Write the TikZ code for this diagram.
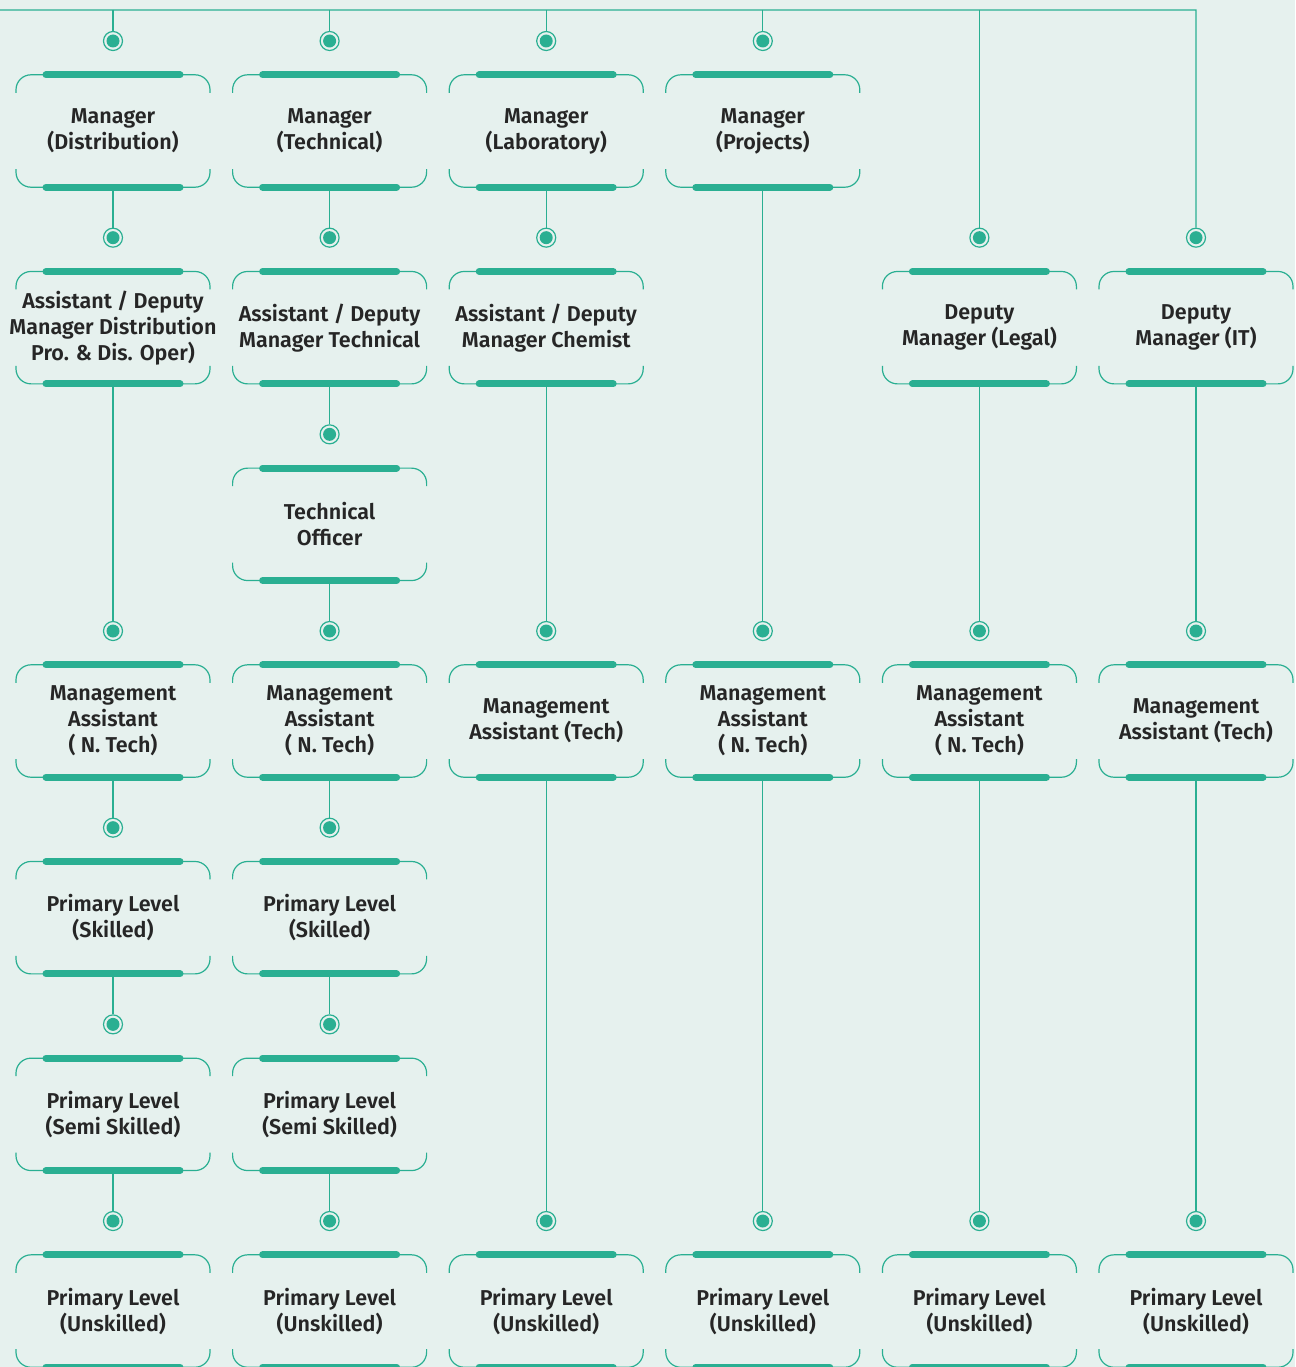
\documentclass[tikz,border=0pt]{standalone}
\usepackage{fontspec}
\setmainfont{Fira Sans}[UprightFont={* SemiBold}]
\definecolor{orgteal}{HTML}{2AAF92}
\definecolor{orgbg}{HTML}{E6F1EE}
\definecolor{orgtext}{HTML}{262626}
\tikzset{
  rolebox/.style={minimum width=194pt, minimum height=112pt, inner sep=0pt, align=center,
    text=orgtext, font=\fontsize{21.5}{26}\selectfont},
  knob/.style={circle, draw=orgteal, line width=1.2pt, minimum size=19pt, inner sep=0pt,
    path picture={\fill[orgteal] (path picture bounding box.center) circle (6.5pt);}},
  link/.style={orgteal, line width=1.2pt},
  bar/.style={orgteal, line width=7pt, line cap=round},
  curl/.style={orgteal, line width=1.2pt, rounded corners=15pt},
}
\begin{document}
\begin{tikzpicture}[x=1pt, y=-1pt]
\fill[orgbg] (0,0) rectangle (1295,1367);
\useasboundingbox (0,0) rectangle (1295,1367);
\foreach \c/\r/\t in {
  1/0/{Manager\\(Distribution)},
  1/1/{Assistant / Deputy\\Manager Distribution\\Pro. \& Dis. Oper)},
  1/3/{Management\\Assistant\\( N. Tech)},
  1/4/{Primary Level\\(Skilled)},
  1/5/{Primary Level\\(Semi Skilled)},
  1/6/{Primary Level\\(Unskilled)},
  2/0/{Manager\\(Technical)},
  2/1/{Assistant / Deputy\\Manager Technical},
  2/2/{Technical\\Officer},
  2/3/{Management\\Assistant\\( N. Tech)},
  2/4/{Primary Level\\(Skilled)},
  2/5/{Primary Level\\(Semi Skilled)},
  2/6/{Primary Level\\(Unskilled)},
  3/0/{Manager\\(Laboratory)},
  3/1/{Assistant / Deputy\\Manager Chemist},
  3/3/{Management\\Assistant (Tech)},
  3/6/{Primary Level\\(Unskilled)},
  4/0/{Manager\\(Projects)},
  4/3/{Management\\Assistant\\( N. Tech)},
  4/6/{Primary Level\\(Unskilled)},
  5/1/{Deputy\\Manager (Legal)},
  5/3/{Management\\Assistant\\( N. Tech)},
  5/6/{Primary Level\\(Unskilled)},
  6/1/{Deputy\\Manager (IT)},
  6/3/{Management\\Assistant (Tech)},
  6/6/{Primary Level\\(Unskilled)}}
{
  \node[knob] (d\c\r) at ({113+216.6*(\c-1)}, {41+196.67*\r}) {};
  \node[rolebox] (b\c\r) at ({113+216.6*(\c-1)}, {131+196.67*\r}) {\t};
  \draw[bar] ([xshift=-67pt]b\c\r.north) -- ([xshift=67pt]b\c\r.north);
  \draw[bar] ([xshift=-67pt]b\c\r.south) -- ([xshift=67pt]b\c\r.south);
  \draw[curl] ([xshift=-67pt]b\c\r.north) -| ([xshift=-97pt,yshift=-18pt]b\c\r.north);
  \draw[curl] ([xshift=67pt]b\c\r.north) -| ([xshift=97pt,yshift=-18pt]b\c\r.north);
  \draw[curl] ([xshift=-67pt]b\c\r.south) -| ([xshift=-97pt,yshift=18pt]b\c\r.south);
  \draw[curl] ([xshift=67pt]b\c\r.south) -| ([xshift=97pt,yshift=18pt]b\c\r.south);
}
\coordinate (rail west) at (0,10);
\coordinate (rail east) at (1196,10);
\draw[link] (rail west) -- (rail east) -- (d61);
\foreach \c/\r in {1/0,2/0,3/0,4/0,5/1}
  \draw[link] (d\c\r |- rail west) -- (d\c\r);
\foreach \c/\a/\b in {1/0/1,1/1/3,1/3/4,1/4/5,1/5/6,
  2/0/1,2/1/2,2/2/3,2/3/4,2/4/5,2/5/6,
  3/0/1,3/1/3,3/3/6,4/0/3,4/3/6,5/1/3,5/3/6,6/1/3,6/3/6}
  \draw[link] (b\c\a.south) -- (d\c\b);
\end{tikzpicture}
\end{document}
